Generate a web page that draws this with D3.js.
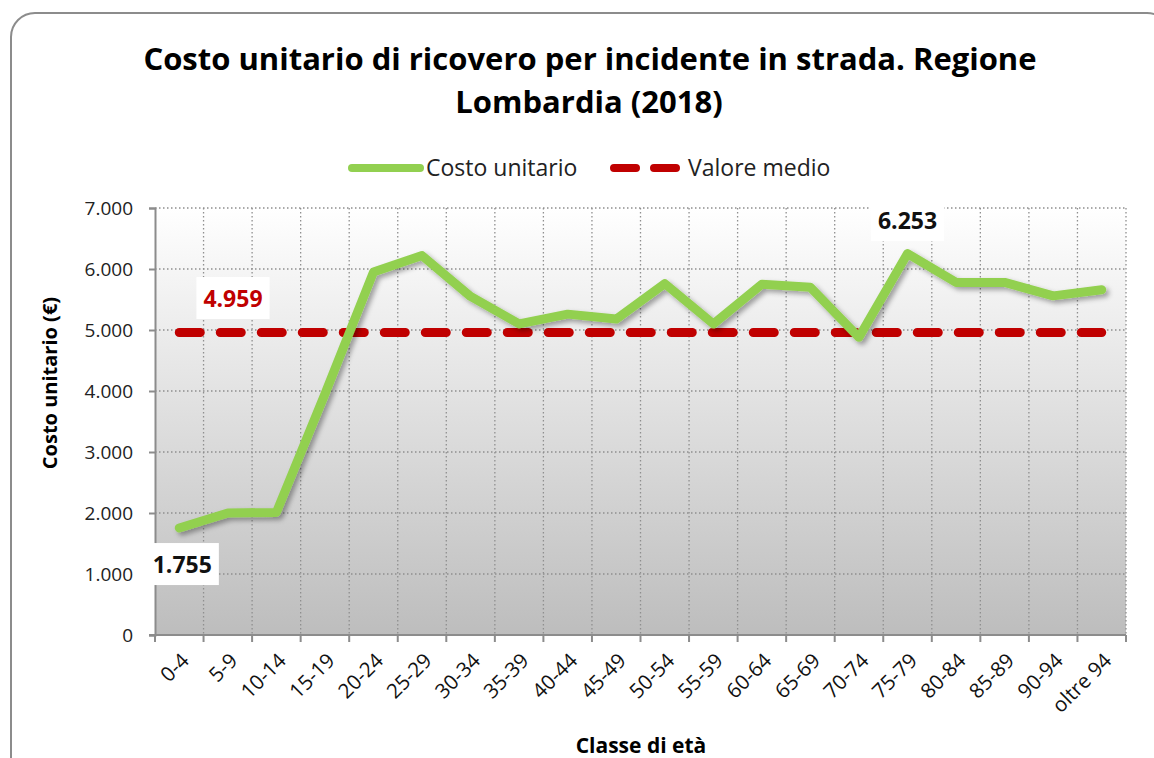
<!DOCTYPE html>
<html>
<head>
  <meta charset="utf-8">
  <script src="https://cdn.jsdelivr.net/npm/d3@7"></script>
  <style>
    body { margin: 0; background: #fff; }
    text { font-family: "Open Sans", "Noto Sans", sans-serif; }
  </style>
</head>
<body>
<script>
  // age classes and values
  var classi = ["0-4", "5-9", "10-14", "15-19", "20-24", "25-29", "30-34", "35-39",
    "40-44", "45-49", "50-54", "55-59", "60-64", "65-69", "70-74", "75-79",
    "80-84", "85-89", "90-94", "oltre 94"];
  var costoUnitario = [1755, 2000, 2010, 3950, 5950, 6220, 5550, 5100,
    5260, 5180, 5760, 5100, 5750, 5700, 4880, 6253,
    5780, 5780, 5560, 5660];
  var valoreMedio = 4959;
  var yTicks = [0, 1000, 2000, 3000, 4000, 5000, 6000, 7000];

  var W = 1154, H = 758;
  var m = {l: 155, t: 208, r: 1126, b: 635};

  var svg = d3.select("body").append("svg")
    .attr("width", W).attr("height", H);

  var defs = svg.append("defs");
  var grad = defs.append("linearGradient").attr("id", "bg")
    .attr("x1", 0).attr("y1", 0).attr("x2", 0).attr("y2", 1);
  grad.append("stop").attr("offset", "0%").attr("stop-color", "#ffffff");
  grad.append("stop").attr("offset", "100%").attr("stop-color", "#bdbdbd");

  var shadow = defs.append("filter").attr("id", "shadow")
    .attr("x", "-5%").attr("y", "-5%").attr("width", "110%").attr("height", "120%");
  shadow.append("feDropShadow").attr("dx", 3).attr("dy", 3)
    .attr("stdDeviation", 2.5).attr("flood-color", "#000").attr("flood-opacity", 0.35);

  // outer frame
  svg.append("rect")
    .attr("x", 11).attr("y", 13).attr("width", 1160).attr("height", 780)
    .attr("rx", 24).attr("fill", "#fff").attr("stroke", "#8c8c8c").attr("stroke-width", 2);

  var x = d3.scaleBand().domain(classi).range([m.l, m.r]);
  var y = d3.scaleLinear().domain([0, 7000]).range([m.b, m.t]);
  var cx = function(d) { return x(d) + x.bandwidth() / 2; };
  var fmt = function(v) { return d3.format(",")(v).replace(/,/g, "."); };

  svg.append("rect")
    .attr("x", m.l).attr("y", m.t).attr("width", m.r - m.l).attr("height", m.b - m.t)
    .attr("fill", "url(#bg)");

  // gridlines
  var grid = svg.append("g").attr("stroke", "#8f8f8f").attr("stroke-width", 1.3)
    .attr("stroke-dasharray", "1.5,2.5");
  grid.selectAll(".h").data(yTicks.slice(1)).enter().append("line")
    .attr("x1", m.l).attr("x2", m.r).attr("y1", y).attr("y2", y);
  grid.selectAll(".v").data(classi.slice(1).concat(["end"])).enter().append("line")
    .attr("x1", function(d, i) { return m.l + (i + 1) * x.bandwidth(); })
    .attr("x2", function(d, i) { return m.l + (i + 1) * x.bandwidth(); })
    .attr("y1", m.t).attr("y2", m.b);

  // axes
  var yAxis = svg.append("g").attr("transform", "translate(" + m.l + ",0)")
    .call(d3.axisLeft(y).tickValues(yTicks).tickSize(6).tickPadding(16).tickFormat(fmt));
  yAxis.selectAll("path, line").attr("stroke", "#8c8c8c").attr("stroke-width", 2);
  yAxis.selectAll("text").attr("font-size", 19).attr("fill", "#222")
    .style("font-family", "'Open Sans', sans-serif");

  var xAxis = svg.append("g").attr("transform", "translate(0," + m.b + ")");
  xAxis.append("line").attr("x1", m.l - 6).attr("x2", m.r).attr("y1", 0).attr("y2", 0)
    .attr("stroke", "#8c8c8c").attr("stroke-width", 2);
  xAxis.selectAll(".tk").data(d3.range(classi.length + 1)).enter().append("line")
    .attr("x1", function(i) { return m.l + i * x.bandwidth(); })
    .attr("x2", function(i) { return m.l + i * x.bandwidth(); })
    .attr("y1", 0).attr("y2", 7).attr("stroke", "#8c8c8c").attr("stroke-width", 2);
  xAxis.selectAll(".lb").data(classi).enter().append("text")
    .attr("transform", function(d) { return "translate(" + (cx(d) + 11) + ",27) rotate(-45)"; })
    .attr("text-anchor", "end").attr("font-size", 20.5).attr("fill", "#111").text(function(d) { return d; });

  // mean line
  svg.append("line")
    .attr("x1", cx(classi[0])).attr("x2", cx(classi[classi.length - 1]))
    .attr("y1", y(valoreMedio)).attr("y2", y(valoreMedio))
    .attr("stroke", "#c00000").attr("stroke-width", 9).attr("stroke-linecap", "round")
    .attr("stroke-dasharray", "21,20");

  // cost line
  var line = d3.line().x(function(d, i) { return cx(classi[i]); }).y(function(d) { return y(d); });
  svg.append("path").datum(costoUnitario)
    .attr("d", line).attr("fill", "none").attr("stroke", "#92d050")
    .attr("stroke-width", 9).attr("stroke-linejoin", "round").attr("stroke-linecap", "round")
    .attr("filter", "url(#shadow)");

  // data labels
  function label(px, py, txt, col) {
    var g = svg.append("g");
    var t = g.append("text").attr("x", px).attr("y", py).attr("text-anchor", "middle")
      .attr("dy", "0.35em").attr("font-size", 23).attr("font-weight", "bold")
      .attr("fill", col).text(txt);
    var b = t.node().getBBox();
    g.insert("rect", "text").attr("x", b.x - 7).attr("y", b.y - 5)
      .attr("width", b.width + 14).attr("height", b.height + 10).attr("fill", "#fff");
  }
  label(233, 299, fmt(valoreMedio), "#c00000");
  label(cx(classi[0]) + 3, 565, fmt(costoUnitario[0]), "#111");
  label(cx(classi[15]), 221, fmt(costoUnitario[15]), "#111");

  // title
  svg.append("text").attr("x", 590).attr("y", 70).attr("text-anchor", "middle")
    .attr("font-size", 31).attr("font-weight", "bold").attr("fill", "#000")
    .text("Costo unitario di ricovero per incidente in strada. Regione");
  svg.append("text").attr("x", 589).attr("y", 113).attr("text-anchor", "middle")
    .attr("font-size", 31).attr("font-weight", "bold").attr("fill", "#000")
    .text("Lombardia (2018)");

  // legend
  var lg = svg.append("g");
  lg.append("line").attr("x1", 352).attr("x2", 420).attr("y1", 168).attr("y2", 168)
    .attr("stroke", "#92d050").attr("stroke-width", 8).attr("stroke-linecap", "round");
  lg.append("text").attr("x", 426).attr("y", 168).attr("dy", "0.35em")
    .attr("font-size", 23).attr("fill", "#222").text("Costo unitario");
  lg.append("line").attr("x1", 614).attr("x2", 682).attr("y1", 168).attr("y2", 168)
    .attr("stroke", "#c00000").attr("stroke-width", 8).attr("stroke-linecap", "round")
    .attr("stroke-dasharray", "22,18");
  lg.append("text").attr("x", 688).attr("y", 168).attr("dy", "0.35em")
    .attr("font-size", 23).attr("fill", "#222").text("Valore medio");

  // axis titles
  svg.append("text").attr("transform", "translate(57,383) rotate(-90)")
    .attr("text-anchor", "middle").attr("font-size", 20).attr("font-weight", "bold")
    .text("Costo unitario (€)");
  svg.append("text").attr("x", 641).attr("y", 753).attr("text-anchor", "middle")
    .attr("font-size", 21).attr("font-weight", "bold").text("Classe di età");
</script>
</body>
</html>
